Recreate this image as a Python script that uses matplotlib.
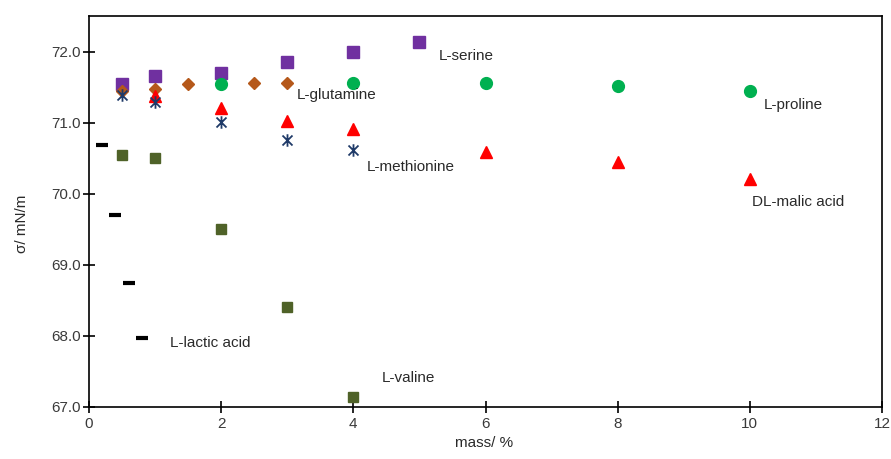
import matplotlib
matplotlib.use("Agg")
import matplotlib.pyplot as plt
from matplotlib.path import Path
from matplotlib.ticker import FormatStrFormatter

plt.rcParams["font.family"] = ["Liberation Sans", "DejaVu Sans"]

# Surface tension (mN/m) against solute mass fraction (%)
serine_x = [0.5, 1, 2, 3, 4, 5]
serine_y = [71.55, 71.65, 71.70, 71.86, 71.99, 72.13]

glutamine_x = [0.5, 1, 1.5, 2, 2.5, 3]
glutamine_y = [71.44, 71.48, 71.54, 71.55, 71.56, 71.56]

proline_x = [2, 4, 6, 8, 10]
proline_y = [71.55, 71.56, 71.56, 71.51, 71.45]

malic_x = [1, 2, 3, 4, 6, 8, 10]
malic_y = [71.37, 71.20, 71.03, 70.91, 70.59, 70.44, 70.21]

methionine_x = [0.5, 1, 2, 3, 4]
methionine_y = [71.39, 71.29, 71.01, 70.75, 70.62]

valine_x = [0.5, 1, 2, 3, 4]
valine_y = [70.54, 70.51, 69.50, 68.41, 67.14]

lactic_x = [0.2, 0.4, 0.6, 0.8]
lactic_y = [70.69, 69.70, 68.75, 67.97]

labels = ["L-serine", "L-glutamine", "L-proline", "DL-malic acid",
          "L-methionine", "L-valine", "L-lactic acid"]
label_x = [5.30, 3.15, 10.21, 10.04, 4.21, 4.43, 1.22]
label_y = [71.94, 71.39, 71.25, 69.89, 70.38, 67.41, 67.90]

# asterisk marker: X with a vertical bar
star = Path(
    [(0, -1), (0, 1), (-0.8, -0.8), (0.8, 0.8), (-0.8, 0.8), (0.8, -0.8)],
    [Path.MOVETO, Path.LINETO, Path.MOVETO, Path.LINETO, Path.MOVETO, Path.LINETO],
)

fig = plt.figure(figsize=(8.91, 4.59), dpi=100)
ax = fig.add_axes([0.0999, 0.1133, 0.8900, 0.8517])

ax.plot(serine_x, serine_y, ls="none", marker="s", ms=8, color="#7030A0")
ax.plot(glutamine_x, glutamine_y, ls="none", marker="D", ms=6.5, color="#B5581A")
ax.plot(proline_x, proline_y, ls="none", marker="o", ms=8.5, color="#00B050")
ax.plot(malic_x, malic_y, ls="none", marker="^", ms=9, color="#FF0000")
ax.plot(methionine_x, methionine_y, ls="none", marker=star, ms=9, mew=1.3,
        color="#1F3A68", mfc="none")
ax.plot(valine_x, valine_y, ls="none", marker="s", ms=7.5, color="#4F6228")
ax.plot(lactic_x, lactic_y, ls="none", marker="_", ms=8.5, mew=3, color="black")

for t, x, y in zip(labels, label_x, label_y):
    ax.text(x, y, t, fontsize=11, color="#2a2a2a", va="center", ha="left")

ax.set_xlim(0, 12)
ax.set_ylim(67, 72.5)
ax.set_xticks(range(0, 13, 2))
ax.set_yticks([67, 68, 69, 70, 71, 72])
ax.yaxis.set_major_formatter(FormatStrFormatter("%.1f"))
ax.tick_params(direction="inout", length=8, width=1.2, labelsize=11,
               colors="black", labelcolor="#3a3a3a")
ax.tick_params(axis="y", pad=2)
ax.tick_params(axis="x", pad=3)
for s in ax.spines.values():
    s.set_linewidth(1.2)

ax.set_xlabel("mass/ %", fontsize=11, color="#2a2a2a")
ax.set_ylabel("σ/ mN/m", fontsize=11, color="#2a2a2a")
ax.xaxis.set_label_coords(0.498, -0.073)
ax.yaxis.set_label_coords(-0.076, 0.468)

fig.savefig("out.png", dpi=100)
